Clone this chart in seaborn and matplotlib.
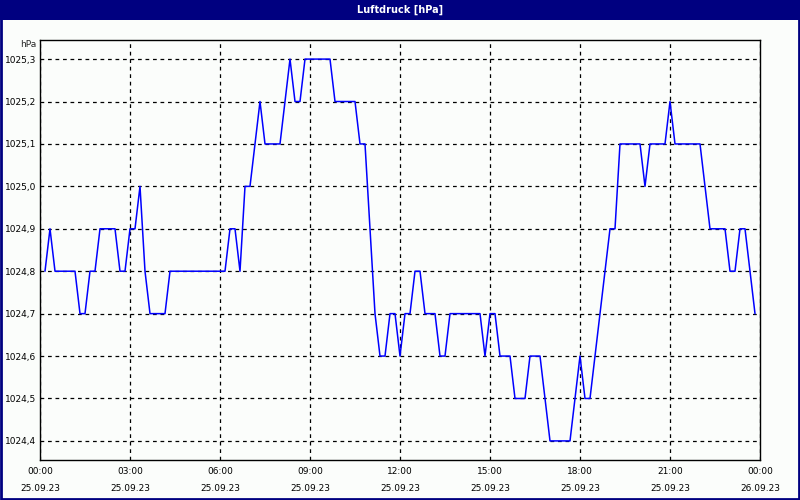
import pandas as pd
import numpy as np
import matplotlib
matplotlib.use("Agg")
import matplotlib.pyplot as plt
import matplotlib.dates as mdates
from matplotlib.patches import Rectangle
from matplotlib.ticker import MultipleLocator, FuncFormatter
import seaborn as sns

# ── DATA (breakpoints of the 10-min series, 25.09.23) ─────
times = ["00:10", "00:20", "00:30", "01:10", "01:20", "01:30", "01:40", "01:50",
         "02:00", "02:30", "02:40", "02:50", "03:00", "03:10", "03:20", "03:30",
         "03:40", "04:10", "04:20", "06:10", "06:20", "06:30", "06:40", "06:50",
         "07:00", "07:10", "07:20", "07:30", "08:00", "08:10", "08:20", "08:30",
         "08:40", "08:50", "09:40", "09:50", "10:30", "10:40", "10:50", "11:00",
         "11:10", "11:20", "11:30", "11:40", "11:50", "12:00", "12:10", "12:20",
         "12:30", "12:40", "12:50", "13:10", "13:20", "13:30", "13:40", "14:40",
         "14:50", "15:00", "15:10", "15:20", "15:40", "15:50", "16:10", "16:20",
         "16:40", "16:50", "17:00", "17:40", "17:50", "18:00", "18:10", "18:20",
         "18:30", "18:40", "18:50", "19:00", "19:10", "19:20", "20:00", "20:10",
         "20:20", "20:50", "21:00", "21:10", "22:00", "22:10", "22:20", "22:50",
         "23:00", "23:10", "23:20", "23:30", "23:40", "23:50"]
pressure = [1024.8, 1024.9, 1024.8, 1024.8, 1024.7, 1024.7, 1024.8, 1024.8,
            1024.9, 1024.9, 1024.8, 1024.8, 1024.9, 1024.9, 1025.0, 1024.8,
            1024.7, 1024.7, 1024.8, 1024.8, 1024.9, 1024.9, 1024.8, 1025.0,
            1025.0, 1025.1, 1025.2, 1025.1, 1025.1, 1025.2, 1025.3, 1025.2,
            1025.2, 1025.3, 1025.3, 1025.2, 1025.2, 1025.1, 1025.1, 1024.9,
            1024.7, 1024.6, 1024.6, 1024.7, 1024.7, 1024.6, 1024.7, 1024.7,
            1024.8, 1024.8, 1024.7, 1024.7, 1024.6, 1024.6, 1024.7, 1024.7,
            1024.6, 1024.7, 1024.7, 1024.6, 1024.6, 1024.5, 1024.5, 1024.6,
            1024.6, 1024.5, 1024.4, 1024.4, 1024.5, 1024.6, 1024.5, 1024.5,
            1024.6, 1024.7, 1024.8, 1024.9, 1024.9, 1025.1, 1025.1, 1025.0,
            1025.1, 1025.1, 1025.2, 1025.1, 1025.1, 1025.0, 1024.9, 1024.9,
            1024.8, 1024.8, 1024.9, 1024.9, 1024.8, 1024.7]

df = pd.DataFrame({
    "zeit": pd.to_datetime(["2023-09-25 " + t for t in times]),
    "hPa": pressure,
})

# ── PLOT ──────────────────────────────────────────────────
sns.set_style("white")
plt.rcParams['font.family'] = ['DejaVu Sans']

fig = plt.figure(figsize=(8, 5), dpi=100, facecolor='#fbfdfb')
ax = fig.add_axes([0.05, 0.08, 0.90, 0.84])
ax.set_facecolor('#fbfdfb')

sns.lineplot(data=df, x="zeit", y="hPa", ax=ax, color='#0000ff',
             linewidth=1.1, estimator=None)

t0 = pd.Timestamp("2023-09-25 00:00")
t1 = pd.Timestamp("2023-09-26 00:00")
ax.set_xlim(t0, t1)
ax.set_ylim(1024.355, 1025.345)

ax.xaxis.set_major_locator(mdates.HourLocator(byhour=range(0, 24, 3)))
ax.xaxis.set_minor_locator(mdates.HourLocator())
ax.xaxis.set_major_formatter(mdates.DateFormatter("%H:%M\n%d.%m.%y"))
ax.yaxis.set_major_locator(MultipleLocator(0.1))
ax.yaxis.set_major_formatter(FuncFormatter(lambda v, p: f"{v:.1f}".replace(".", ",")))

ax.grid(True, which='major', color='black', linestyle=(0, (3, 3)), linewidth=0.9)
ax.tick_params(axis='x', which='both', direction='out', length=4, width=0.8,
               colors='black', labelsize=6.5, pad=1)
ax.tick_params(axis='y', which='both', length=0, labelsize=6.5, pad=3,
               colors='black')
for lbl in ax.get_xticklabels():
    lbl.set_linespacing(2.1)
for s in ax.spines.values():
    s.set_color('black')
    s.set_linewidth(1.0)
ax.set_xlabel("")
ax.set_ylabel("")
ax.text(-0.005, 1.0, "hPa", transform=ax.transAxes, ha='right', va='top',
        fontsize=6.5)

# title bar and frame
fig.patches.append(Rectangle((0, 0.96), 1, 0.04, transform=fig.transFigure,
                             facecolor='#000080', edgecolor='none', zorder=0))
fig.patches.append(Rectangle((0.001, 0.002), 0.998, 0.996, transform=fig.transFigure,
                             fill=False, edgecolor='#000080', linewidth=2))
fig.text(0.5, 0.98, "Luftdruck [hPa]", color='white', fontsize=7,
         fontweight='bold', ha='center', va='center')

fig.savefig("out.png", dpi=100, facecolor=fig.get_facecolor())
